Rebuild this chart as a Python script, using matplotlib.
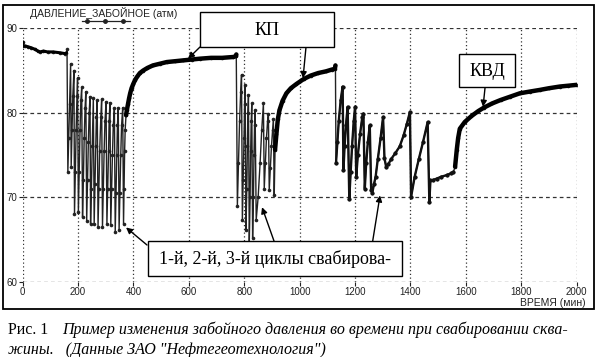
import matplotlib
matplotlib.use('Agg')
import matplotlib.pyplot as plt
from matplotlib.patches import Rectangle
from matplotlib.lines import Line2D

# pressure (atm) vs time (min)
start_t = [0, 2, 10, 20, 30, 45, 55, 62, 75, 90, 110, 135, 153, 158]
start_p = [88.4, 87.9, 87.9, 87.8, 87.7, 87.5, 87.3, 87.2, 87.3, 87.2, 87.2, 87.1, 87.0, 87.1]

swab1_t = [160, 163, 166, 169, 173, 175, 178, 181, 185, 187, 190, 193, 196,
           198, 201, 204, 207, 210, 213, 216, 219, 222, 225, 228, 231, 234, 237, 240,
           243, 245, 248, 251, 255, 258, 261, 264, 266, 269, 272, 275, 278, 282,
           285, 288, 291, 294, 297, 301, 304, 307, 310, 312, 315, 318, 321, 324, 327,
           331, 334, 337, 340, 342, 345, 348, 351, 354, 357, 361, 364, 366, 368, 370]
swab1_p = [87.5, 73.0, 77.0, 81.0, 85.8, 73.6, 78.0, 82.0, 85.0, 68.0, 73.0, 78.0, 82.0,
           84.1, 68.2, 73.0, 78.0, 81.5, 83.0, 67.6, 72.0, 77.0, 80.5, 82.5, 67.2, 72.0, 76.5, 80.0,
           81.9, 66.8, 71.0, 76.0, 81.7, 66.8, 71.5, 76.0, 79.5, 81.5, 66.5, 71.0, 75.5, 79.5,
           81.6, 66.5, 71.0, 75.5, 79.0, 81.3, 66.8, 71.0, 75.5, 79.0, 81.2, 66.7, 71.0, 75.0, 78.5,
           80.6, 65.9, 70.5, 75.0, 78.5, 80.6, 66.1, 70.5, 75.0, 78.5, 80.6, 66.8, 71.0, 75.5, 78.0]

rec1_t = [373, 376, 380, 384, 388, 393, 399, 406, 414, 423, 435, 450, 470, 495,
          520, 550, 580, 610, 640, 680, 720, 760, 770, 771]
rec1_p = [79.7, 80.3, 81.0, 81.7, 82.3, 82.9, 83.4, 83.9, 84.3, 84.7, 85.0, 85.3, 85.6, 85.8,
          86.0, 86.1, 86.2, 86.3, 86.4, 86.5, 86.5, 86.6, 86.7, 86.9]

swab2_t = [775, 779, 783, 787, 790, 793, 796, 799, 801, 803, 806, 809, 811, 813,
           815, 818, 821, 823, 825, 827, 830, 833, 835, 837, 839, 843, 850, 857, 863,
           869, 872, 876, 880, 884, 887, 890, 894, 898, 902, 905, 908]
swab2_p = [69.0, 74.0, 79.0, 82.5, 84.5, 67.3, 72.0, 77.0, 81.0, 83.3, 66.1, 71.0, 76.0, 80.0,
           82.1, 64.6, 70.0, 75.5, 79.0, 81.1, 65.2, 70.0, 75.0, 78.5, 80.3, 67.3, 70.0, 74.0, 78.0,
           81.1, 71.0, 74.0, 77.0, 79.0, 79.9, 70.8, 73.5, 76.0, 78.0, 79.3, 70.2]

rec2_t = [911, 916, 921, 927, 938, 952, 968, 988, 1015, 1040, 1067, 1095, 1115, 1127, 1129]
rec2_p = [75.6, 77.5, 79.2, 80.3, 81.4, 82.3, 82.9, 83.4, 84.0, 84.4, 84.7, 84.9, 85.1, 85.2, 85.6]

swab3_t = [1131, 1136, 1141, 1148, 1155, 1158, 1162, 1167, 1173, 1179, 1184, 1189, 1195,
           1200, 1204, 1210, 1218, 1226, 1230, 1235, 1240, 1246, 1253, 1258, 1262, 1268,
           1274, 1282, 1292, 1301, 1306, 1312, 1320, 1330, 1345, 1361, 1375, 1387, 1398,
           1402, 1415, 1430, 1445, 1462, 1468, 1472, 1480, 1495, 1510, 1530, 1545, 1555]
swab3_p = [74.0, 76.5, 79.0, 81.5, 83.1, 73.2, 76.0, 78.5, 80.7, 69.8, 73.0, 76.0, 79.0,
           80.7, 72.4, 75.0, 77.5, 79.5, 79.9, 71.0, 74.0, 76.5, 78.5, 70.8, 70.5, 71.5,
           72.4, 74.5, 77.0, 79.5, 74.6, 73.6, 73.9, 74.5, 75.2, 76.0, 77.3, 78.7, 80.1,
           70.0, 72.4, 74.5, 76.5, 78.9, 69.4, 72.0, 72.0, 72.2, 72.4, 72.6, 72.8, 73.0]

rec3_t = [1561, 1567, 1572, 1578, 1596, 1620, 1645, 1665, 1695, 1725, 1760, 1795,
          1830, 1867, 1900, 1939, 1970, 2000]
rec3_p = [73.6, 75.6, 77.0, 78.1, 78.9, 79.6, 80.2, 80.6, 81.1, 81.5, 81.9, 82.3,
          82.5, 82.7, 82.9, 83.1, 83.2, 83.3]

x_ticks = [0, 200, 400, 600, 800, 1000, 1200, 1400, 1600, 1800, 2000]
y_ticks = [60, 70, 80, 90]

W, H = 601, 357


def px(x, y):
    # pixel position (from top-left) -> figure fraction
    return x / W, 1 - y / H


fig = plt.figure(figsize=(W / 100, H / 100), dpi=100)
fig.patch.set_facecolor('white')
ax = fig.add_axes([22.7 / W, 1 - 281.5 / H, 554 / W, 253.2 / H])

all_t = start_t + swab1_t + rec1_t + swab2_t + rec2_t + swab3_t + rec3_t
all_p = start_p + swab1_p + rec1_p + swab2_p + rec2_p + swab3_p + rec3_p
ax.plot(all_t, all_p, color='#222222', lw=1.0, marker='o', ms=2.6, mew=0, zorder=3)
# third cycle is drawn with denser samples in the original -> heavier line
ax.plot(swab3_t, swab3_p, color='#111111', lw=1.7, marker='o', ms=3, mew=0, zorder=3)
ax.plot(start_t, start_p, color='black', lw=2.2, solid_capstyle='round', zorder=4)
for tt, pp in [(rec1_t, rec1_p), (rec2_t, rec2_p), (rec3_t, rec3_p)]:
    ax.plot(tt, pp, color='black', lw=3.2, solid_capstyle='round', zorder=4)

ax.set_xlim(0, 2000)
ax.set_ylim(60, 90)
ax.set_xticks(x_ticks)
ax.set_yticks(y_ticks)
for s in ax.spines.values():
    s.set_visible(False)
ax.tick_params(length=3, width=0.8, pad=1, labelsize=7, colors='#222222')
for lbl in ax.get_xticklabels() + ax.get_yticklabels():
    lbl.set_family('Liberation Sans')
ax.xaxis.grid(True, linestyle=(0, (1, 2)), color='#333333', lw=0.9)
ax.yaxis.grid(True, linestyle=(0, (3, 2.5)), color='#333333', lw=0.9)
ax.set_axisbelow(True)

# outer frame
fig.add_artist(Rectangle(px(3, 309), 591 / W, 304 / H, transform=fig.transFigure,
                         fill=False, ec='black', lw=1.3))

# series name + legend sample
fig.text(*px(104, 13), 'ДАВЛЕНИЕ_ЗАБОЙНОЕ (атм)', ha='center', va='center',
         fontsize=7.5, family='Liberation Sans', color='#222222')
lx = [82 / W, 87 / W, 105 / W, 123 / W, 130 / W]
fig.add_artist(Line2D(lx, [1 - 21 / H] * 5, transform=fig.transFigure, color='#222222',
                      lw=0.9, marker='o', ms=2.5, markevery=[1, 2, 3]))
fig.text(*px(586, 302.5), 'ВРЕМЯ (мин)', ha='right', va='center',
         fontsize=7.5, family='Liberation Sans', color='#222222')

# labelled boxes with arrows
boxes = [
    ('КП', (200, 12, 334, 47), [((200, 47), (597, 86.4)), ((306, 47), (1012, 84.1))]),
    ('КВД', (459, 54, 515, 87), [((485, 88), (1662, 80.7))]),
    ('1-й, 2-й, 3-й циклы свабирова-', (148, 241, 402, 276),
     [((147, 245), (373, 66.4)), ((274, 241), (864, 68.8)), ((372.7, 241), (1290, 70.2))]),
]
for label, (x0, y0, x1, y1), arrows in boxes:
    fig.add_artist(Rectangle(px(x0, y1), (x1 - x0) / W, (y1 - y0) / H,
                             transform=fig.transFigure, fc='white', ec='black', lw=1, zorder=5))
    fig.text(*px((x0 + x1) / 2, (y0 + y1) / 2 + 1), label, ha='center', va='center',
             fontsize=13, family='Liberation Serif', zorder=6)
    for start, tip in arrows:
        ax.annotate('', xy=tip, xycoords='data', xytext=px(*start), textcoords='figure fraction',
                    arrowprops=dict(arrowstyle='-|>', color='black', lw=1,
                                    mutation_scale=9, shrinkA=0, shrinkB=0), zorder=6)

# caption
fig.text(*px(8, 330), 'Рис. 1', ha='left', va='center', fontsize=11.5, family='Liberation Serif')
fig.text(*px(62, 330), 'Пример изменения забойного давления во времени при свабировании сква-',
         ha='left', va='center', fontsize=11.5, family='Liberation Serif', style='italic')
fig.text(*px(8, 350), 'жины.   (Данные ЗАО "Нефтегеотехнология")',
         ha='left', va='center', fontsize=11.5, family='Liberation Serif', style='italic')

fig.savefig('out.png', dpi=100)
